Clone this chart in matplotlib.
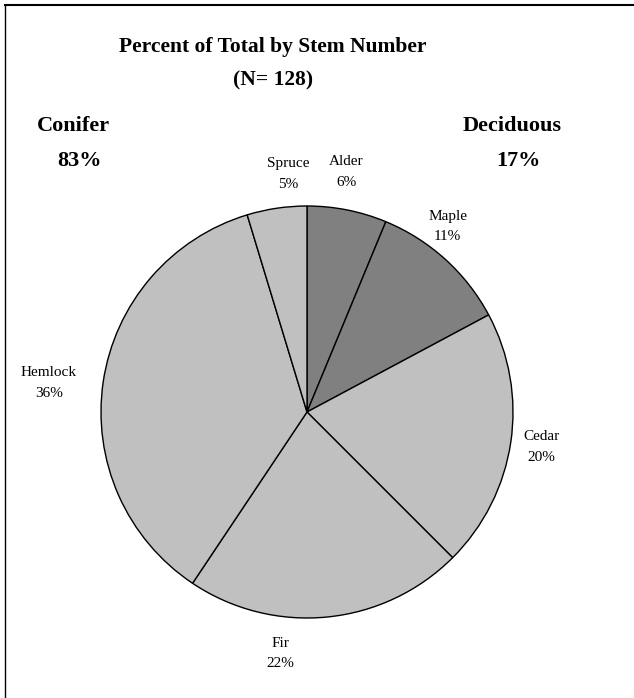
import matplotlib
matplotlib.use('Agg')
import matplotlib.pyplot as plt
from matplotlib.lines import Line2D
import numpy as np

species = ['Alder', 'Maple', 'Cedar', 'Fir', 'Hemlock', 'Spruce']
stems = [8, 14, 26, 28, 46, 6]
pct_labels = ['6%', '11%', '20%', '22%', '36%', '5%']
colors = ['#808080', '#808080', '#c0c0c0', '#c0c0c0', '#c0c0c0', '#c0c0c0']
groups = ['Conifer', 'Deciduous']
group_pct = ['83%', '17%']

plt.rcParams['font.family'] = ['Liberation Serif', 'DejaVu Serif']

W, H = 634, 698
fig = plt.figure(figsize=(W / 100, H / 100), dpi=100)
ax = fig.add_axes([0, 0, 1, 1])

cx, cy, r = 307, H - 412, 206
wedges, _ = ax.pie(stems, colors=colors, startangle=90, counterclock=False,
                   center=(cx, cy), radius=r, frame=True,
                   wedgeprops={'edgecolor': 'black', 'linewidth': 1.0})
ax.set_xlim(0, W)
ax.set_ylim(0, H)
ax.set_aspect('equal')
ax.axis('off')

# label distances (in radii) and angle nudges, Excel-style outside labels
dists = [1.18, 1.13, 1.15, 1.18, 1.26, 1.16]
shift = [2, 5, 0, -12, 2, -4]
for w, name, p, d, s in zip(wedges, species, pct_labels, dists, shift):
    th = np.deg2rad((w.theta1 + w.theta2) / 2 + s)
    x = cx + d * r * np.cos(th)
    y = cy + d * r * np.sin(th)
    ax.text(x, y, name + '\n' + p, ha='center', va='center', fontsize=11,
            linespacing=1.75)

ax.text(W / 2 - 44, H - 47, 'Percent of Total by Stem Number', ha='center', va='center',
        fontsize=15.5, fontweight='bold')
ax.text(W / 2 - 44, H - 80, '(N= 128)', ha='center', va='center',
        fontsize=15.5, fontweight='bold')
ax.text(73, H - 126, groups[0], ha='center', va='center', fontsize=16, fontweight='bold')
ax.text(79, H - 161, group_pct[0], ha='center', va='center', fontsize=16, fontweight='bold')
ax.text(512, H - 126, groups[1], ha='center', va='center', fontsize=16, fontweight='bold')
ax.text(518, H - 161, group_pct[1], ha='center', va='center', fontsize=16, fontweight='bold')

# chart frame: only top and left edges show in the crop
fig.add_artist(Line2D([5 / W, 1], [1 - 5 / H, 1 - 5 / H], transform=fig.transFigure,
                      color='black', linewidth=1.5))
fig.add_artist(Line2D([5 / W, 5 / W], [0, 1 - 5 / H], transform=fig.transFigure,
                      color='black', linewidth=1.0))

plt.savefig('out.png', dpi=100)
